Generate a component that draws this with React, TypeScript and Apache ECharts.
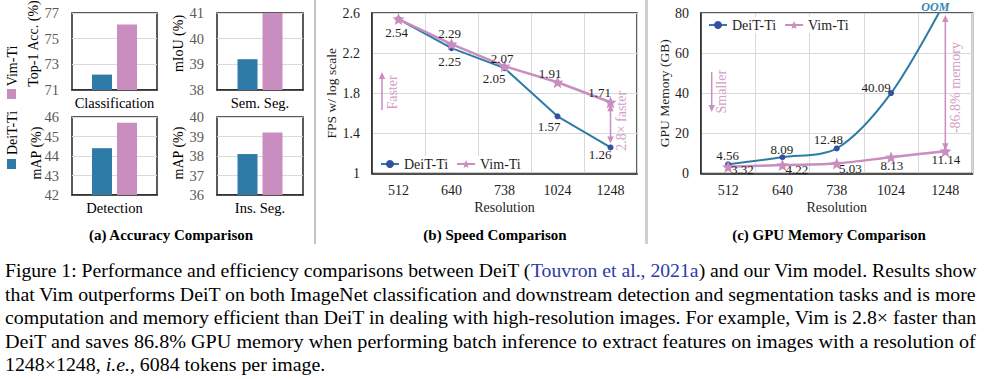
import React, { useEffect, useRef } from "react";
import * as echarts from "echarts";

// ---------------- data ----------------
const accTasks = ["Classification", "Sem. Seg.", "Detection", "Ins. Seg."];
const accAxisNames = ["Top-1 Acc. (%)", "mIoU (%)", "mAP (%)", "mAP (%)"];
const accDeiT = [72.2, 39.2, 44.4, 38.1];
const accVim = [76.1, 41.0, 45.7, 39.2];
const accMin = [71, 38, 42, 36];
const accMax = [77, 41, 46, 40];
const accStep = [2, 1, 1, 1];

const resolutions = ["512", "640", "738", "1024", "1248"];
const fpsDeiT = [2.54, 2.25, 2.05, 1.57, 1.26];
const fpsVim = [2.54, 2.29, 2.07, 1.91, 1.71];
const fpsMin = 1;
const fpsMax = 2.6;
const fpsStep = 0.4;

const memDeiT = [4.56, 8.09, 12.48, 40.09, 86]; // 1248: OOM, runs off the 80 GB axis
const memVim = [3.32, 4.22, 5.03, 8.13, 11.14];
const memOOMIndex = 4;
const memMin = 0;
const memMax = 80;
const memStep = 20;

const seriesNames = ["DeiT-Ti", "Vim-Ti"];
const panelTitles = ["(a) Accuracy Comparison", "(b) Speed Comparison", "(c) GPU Memory Comparison"];

const captionLines: [string, string][][] = [
  [["n", "Figure 1: Performance and efficiency comparisons between DeiT ("], ["c", "Touvron et al., 2021a"], ["n", ") and our Vim model. Results show"]],
  [["n", "that Vim outperforms DeiT on both ImageNet classification and downstream detection and segmentation tasks and is more"]],
  [["n", "computation and memory efficient than DeiT in dealing with high-resolution images. For example, Vim is 2.8× faster than"]],
  [["n", "DeiT and saves 86.8% GPU memory when performing batch inference to extract features on images with a resolution of"]],
  [["n", "1248×1248, "], ["i", "i.e."], ["n", ", 6084 tokens per image."]],
];

// ---------------- styling ----------------
const FONT = "'Liberation Serif', 'Times New Roman', Times, serif";
const BLUE = "#2d7ba6";
const BLUE_MARK = "#34519f";
const PINK = "#c98dbf";
const PINK_TEXT = "#d2a0c8";
const SPLIT = "#d9d9d9";
const BORDER = "#262626";
const TXT = "#1e1e1e";
const STAR =
  "path://M0,-10L2.645,-3.64L9.51,-3.09L4.28,1.39L5.88,8.09L0,4.5L-5.88,8.09L-4.28,1.39L-9.51,-3.09L-2.645,-3.64Z";

const accGridBoxes = [
  { left: 72, top: 13, width: 85, height: 77 },
  { left: 217, top: 13, width: 86, height: 77 },
  { left: 72, top: 117, width: 85, height: 78 },
  { left: 217, top: 117, width: 86, height: 78 },
];
const fpsGridBox = { left: 372, top: 13, width: 265, height: 160.5 };
const memGridBox = { left: 701, top: 13, width: 271.5, height: 160.5 };

// label offsets (label centre minus point centre), styling only
const fpsDeiTOff: (number[] | null)[] = [[-2, 13], [-2, 13], [-10.5, 10.6], [-8.3, 10], [-10.5, 7.4]];
const fpsVimOff: (number[] | null)[] = [null, [-2, -10.4], [-2.3, -8], [-7.5, -8.5], [-10.8, -9.8]];
const memDeiTOff: (number[] | null)[] = [[-0.5, -9.3], [-0.6, -8.2], [-8.5, -9], [-15, -6], null];
const memVimOff: (number[] | null)[] = [[14.2, 2.5], [14.4, 4.8], [13.5, 5.4], [0.7, 8.3], [0.6, 8.6]];

const accAxisNamePos = [[33.5, 43.5], [178, 43.5], [36.7, 153], [178, 153]];

function labelled(vals: number[], offs: (number[] | null)[]) {
  return vals.map((v, k) =>
    offs[k] ? { value: v, label: { show: true, offset: offs[k] } } : { value: v, label: { show: false } }
  );
}

function buildOption() {
  const grids = [...accGridBoxes, fpsGridBox, memGridBox].map((b) => ({
    ...b,
    show: true,
    borderColor: BORDER,
    borderWidth: 1.5,
    backgroundColor: "transparent",
    containLabel: false,
    outerBoundsMode: "none",
  }));

  const xAxes: any[] = accTasks.map((t, i) => ({
    gridIndex: i,
    type: "category",
    data: [t],
    axisTick: { show: false },
    axisLine: { show: true, lineStyle: { color: BORDER, width: 1.5 } },
    axisLabel: { color: "#000", fontSize: 14.5, margin: 5, fontFamily: FONT },
    splitLine: { show: false },
  }));
  const yAxes: any[] = accTasks.map((_, i) => ({
    gridIndex: i,
    type: "value",
    min: accMin[i],
    max: accMax[i],
    interval: accStep[i],
    axisLine: { show: false },
    axisTick: { show: false },
    axisLabel: { color: "#5a5a5a", fontSize: 14.5, margin: 13, fontFamily: FONT },
    splitLine: { show: true, lineStyle: { color: SPLIT, width: 1 } },
  }));

  const catAxis = (g: number) => ({
    gridIndex: g,
    type: "category",
    data: resolutions,
    boundaryGap: true,
    axisTick: { show: false },
    axisLine: { show: true, lineStyle: { color: BORDER, width: 1.5 } },
    axisLabel: { color: TXT, fontSize: 14, margin: 10, interval: 0, fontFamily: FONT },
    splitLine: { show: true, interval: 0, lineStyle: { color: SPLIT, width: 1 } },
    name: "Resolution",
    nameLocation: "middle",
    nameGap: 27,
    nameTextStyle: { fontSize: 14, color: TXT, fontFamily: FONT },
  });
  xAxes.push(catAxis(4), catAxis(5));
  yAxes.push(
    {
      gridIndex: 4,
      type: "value",
      min: fpsMin,
      max: fpsMax,
      interval: fpsStep,
      axisLine: { show: true, lineStyle: { color: BORDER, width: 1.5 } },
      axisTick: { show: false },
      axisLabel: { color: TXT, fontSize: 14, margin: 12, fontFamily: FONT },
      splitLine: { show: true, lineStyle: { color: SPLIT, width: 1 } },
      name: "FPS w/ log scale",
      nameLocation: "middle",
      nameGap: 28,
      nameTextStyle: { fontSize: 13.5, color: TXT, fontFamily: FONT },
    },
    {
      gridIndex: 5,
      type: "value",
      min: memMin,
      max: memMax,
      interval: memStep,
      axisLine: { show: true, lineStyle: { color: BORDER, width: 1.5 } },
      axisTick: { show: false },
      axisLabel: { color: TXT, fontSize: 14, margin: 12, fontFamily: FONT },
      splitLine: { show: true, lineStyle: { color: SPLIT, width: 1 } },
      name: "GPU Memory (GB)",
      nameLocation: "middle",
      nameGap: 28,
      nameTextStyle: { fontSize: 13.5, color: TXT, fontFamily: FONT },
    }
  );

  const lineLabel = { show: true, position: "inside", color: TXT, fontSize: 13, fontFamily: FONT, textBorderWidth: 0 };
  const deitLine = (g: number, data: any[], smooth: number | boolean) => ({
    type: "line",
    name: seriesNames[0],
    xAxisIndex: g,
    yAxisIndex: g,
    data,
    smooth,
    symbol: "circle",
    symbolSize: 6,
    lineStyle: { color: BLUE, width: 2 },
    itemStyle: { color: BLUE_MARK },
    label: lineLabel,
    z: 3,
  });
  const vimLine = (g: number, data: any[], smooth: number | boolean) => ({
    type: "line",
    name: seriesNames[1],
    xAxisIndex: g,
    yAxisIndex: g,
    data,
    smooth,
    symbol: STAR,
    symbolSize: 12,
    lineStyle: { color: PINK, width: 2.5 },
    itemStyle: { color: PINK },
    label: lineLabel,
    z: 4,
  });

  const memDeiTData = labelled(memDeiT, memDeiTOff).map((d: any, k) =>
    k === memOOMIndex ? { ...d, symbol: "none" } : d
  );

  const series: any[] = [
    deitLine(4, labelled(fpsDeiT, fpsDeiTOff), false),
    vimLine(4, labelled(fpsVim, fpsVimOff), false),
    deitLine(5, memDeiTData, 0.3),
    vimLine(5, labelled(memVim, memVimOff), 0.3),
  ];
  accTasks.forEach((_, i) => {
    series.push(
      {
        type: "bar",
        name: "acc-" + seriesNames[0],
        xAxisIndex: i,
        yAxisIndex: i,
        data: [accDeiT[i]],
        barWidth: 20,
        barGap: "25%",
        itemStyle: { color: BLUE },
      },
      {
        type: "bar",
        name: "acc-" + seriesNames[1],
        xAxisIndex: i,
        yAxisIndex: i,
        data: [accVim[i]],
        barWidth: 20,
        barGap: "25%",
        itemStyle: { color: PINK },
      }
    );
  });

  const legendBase = {
    data: seriesNames,
    orient: "horizontal",
    itemWidth: 18,
    itemHeight: 10,
    itemGap: 8,
    padding: [1, 2],
    backgroundColor: "#fff",
    selectedMode: false,
    textStyle: { fontSize: 14, color: TXT, fontFamily: FONT },
  };

  return {
    animation: false,
    backgroundColor: "#fff",
    textStyle: { fontFamily: FONT },
    grid: grids,
    xAxis: xAxes,
    yAxis: yAxes,
    legend: [
      { ...legendBase, left: 378, top: 156 },
      { ...legendBase, left: 706, top: 17 },
    ],
    series,
  };
}

const measureCtx = typeof document !== "undefined" ? document.createElement("canvas").getContext("2d") : null;
function measure(text: string, font: string) {
  if (!measureCtx) return text.length * 8.5;
  measureCtx.font = font;
  return measureCtx.measureText(text).width;
}

function txt(x: number, y: number, text: string, o: any = {}) {
  return {
    type: "text",
    x,
    y,
    rotation: o.rot || 0,
    silent: true,
    z: 10,
    style: {
      text,
      fill: o.color || "#000",
      fontSize: o.size || 14,
      fontFamily: FONT,
      fontWeight: o.weight || "normal",
      fontStyle: o.fstyle || "normal",
      align: o.align || "center",
      verticalAlign: "middle",
    },
  };
}

function arrow(x: number, y1: number, y2: number, headStart: boolean, headEnd: boolean, color: string) {
  const els: any[] = [];
  const h = 7;
  const w = 3.2;
  const dir = y2 > y1 ? 1 : -1;
  const ls = headStart ? y1 + dir * (h - 1) : y1;
  const le = headEnd ? y2 - dir * (h - 1) : y2;
  els.push({ type: "line", silent: true, z: 9, shape: { x1: x, y1: ls, x2: x, y2: le }, style: { stroke: color, lineWidth: 1.5 } });
  if (headEnd)
    els.push({ type: "polygon", silent: true, z: 9, shape: { points: [[x, y2], [x - w, y2 - dir * h], [x + w, y2 - dir * h]] }, style: { fill: color } });
  if (headStart)
    els.push({ type: "polygon", silent: true, z: 9, shape: { points: [[x, y1], [x - w, y1 + dir * h], [x + w, y1 + dir * h]] }, style: { fill: color } });
  return els;
}

function buildGraphics(chart: any) {
  const px = (g: number, x: string, y: number) => chart.convertToPixel({ gridIndex: g }, [x, y]) as number[];
  const els: any[] = [];

  // panel separators
  els.push({ type: "rect", silent: true, shape: { x: 314, y: 0, width: 2, height: 244 }, style: { fill: "#c4c4c4" } });
  els.push({ type: "rect", silent: true, shape: { x: 645, y: 0, width: 3, height: 244 }, style: { fill: "#cfcfcf" } });

  // panel titles
  els.push(txt(171, 235, panelTitles[0], { size: 15, weight: "bold" }));
  els.push(txt(495, 235, panelTitles[1], { size: 15, weight: "bold" }));
  els.push(txt(829, 235, panelTitles[2], { size: 15, weight: "bold" }));

  // (a) axis names
  accAxisNames.forEach((n, i) => {
    els.push(txt(accAxisNamePos[i][0], accAxisNamePos[i][1], n, { size: 14, rot: Math.PI / 2 }));
  });
  // (a) legend (vertical, rotated)
  els.push({ type: "rect", silent: true, shape: { x: 7, y: 89, width: 9, height: 10 }, style: { fill: PINK } });
  els.push(txt(12, 66, seriesNames[1], { size: 14, rot: Math.PI / 2 }));
  els.push({ type: "rect", silent: true, shape: { x: 7, y: 159, width: 9, height: 10 }, style: { fill: BLUE } });
  els.push(txt(12, 133, seriesNames[0], { size: 14, rot: Math.PI / 2 }));

  // (b) "Faster" hint
  els.push(...arrow(382, 110, 72, false, true, PINK));
  els.push(txt(392, 92.5, "Faster", { size: 14, rot: Math.PI / 2, color: PINK_TEXT }));
  // (b) 2.8x faster
  const last = resolutions[resolutions.length - 1];
  const pV = px(4, last, fpsVim[4]);
  const pD = px(4, last, fpsDeiT[4]);
  els.push(...arrow(pV[0], pV[1] + 2, pD[1] - 4, true, true, PINK));
  els.push(txt(pV[0] + 11, (pV[1] + pD[1]) / 2 - 4, "2.8× faster", { size: 14, rot: Math.PI / 2, color: PINK_TEXT }));

  // (c) "Smaller" hint
  els.push(...arrow(711.7, 72, 112, false, true, PINK));
  els.push(txt(721.7, 91.7, "Smaller", { size: 14, rot: Math.PI / 2, color: PINK_TEXT }));
  // (c) -86.8% memory
  const mTop = px(5, last, memMax);
  const mV = px(5, last, memVim[4]);
  els.push(...arrow(mV[0], mTop[1] + 2, mV[1] - 1, true, true, PINK));
  els.push(txt(mV[0] + 10, (mTop[1] + mV[1]) / 2 + 5.5, "-86.8% memory", { size: 14, rot: Math.PI / 2, color: PINK_TEXT }));
  els.push(txt(mTop[0] - 10, mTop[1] - 6.5, "OOM", { size: 12, weight: "bold", fstyle: "italic", color: "#3585b5" }));

  // caption
  const capSize = 19;
  const fontFor = (k: string) => `${k === "i" ? "italic " : ""}${capSize}px "Liberation Serif"`;
  const widths = captionLines.map((segs) => segs.reduce((s, [k, t]) => s + measure(t, fontFor(k)), 0));
  const target = 972;
  const fullScales = widths.slice(0, 4).map((w) => target / w);
  const avgScale = fullScales.reduce((a, b) => a + b, 0) / fullScales.length;
  captionLines.forEach((segs, i) => {
    const scale = i < 4 ? fullScales[i] : avgScale;
    els.push({
      type: "text",
      x: 5,
      y: 271 + i * 23.5,
      scaleX: scale,
      silent: true,
      style: {
        text: segs.map(([k, t]) => `{${k}|${t}}`).join(""),
        rich: {
          n: { fill: "#000", fontSize: capSize, fontFamily: FONT },
          c: { fill: "#2b3aa6", fontSize: capSize, fontFamily: FONT },
          i: { fill: "#000", fontSize: capSize, fontFamily: FONT, fontStyle: "italic" },
        },
        fontSize: capSize,
        fontFamily: FONT,
        fill: "#000",
        align: "left",
        verticalAlign: "middle",
      },
    });
  });

  return els;
}

export default function App() {
  const ref = useRef<HTMLDivElement>(null);
  useEffect(() => {
    const chart = echarts.init(ref.current!, null, { renderer: "svg" });
    chart.setOption(buildOption() as any);
    chart.setOption({ graphic: buildGraphics(chart) } as any);
    return () => chart.dispose();
  }, []);
  return (
    <div
      ref={ref}
      style={{ position: "fixed", left: 0, top: 0, width: 984, height: 379, background: "#fff" }}
    />
  );
}
